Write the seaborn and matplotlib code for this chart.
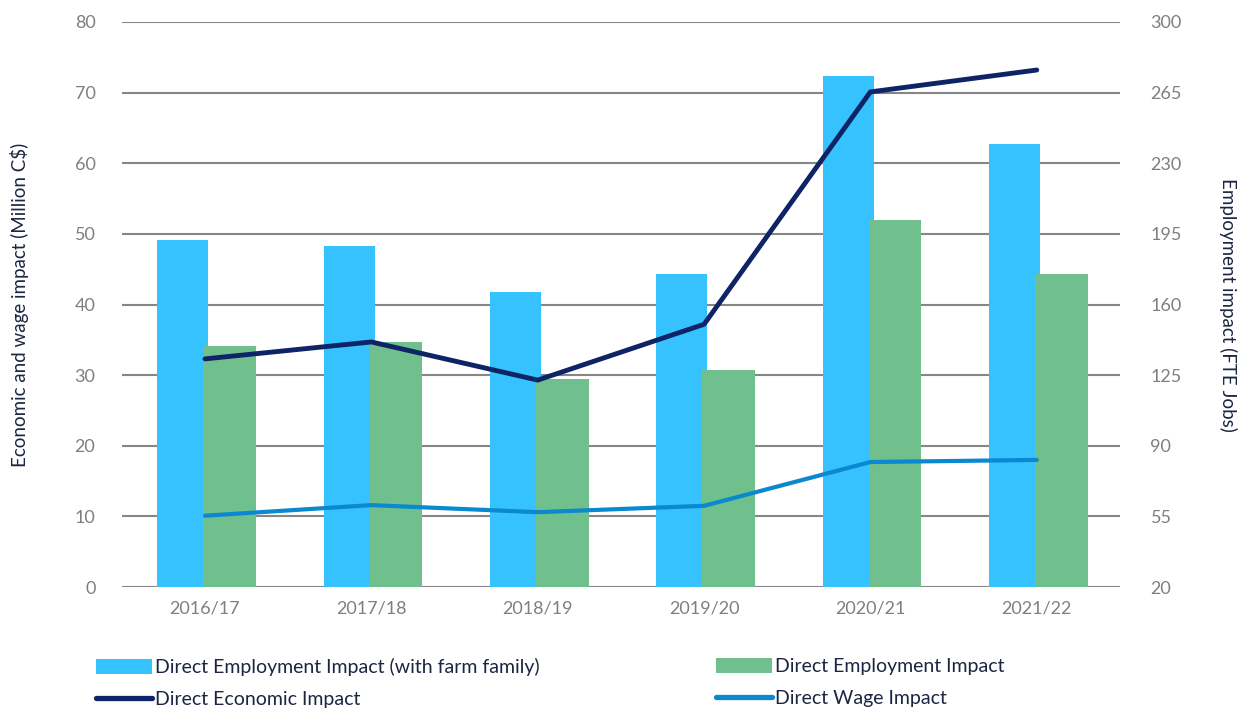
import numpy as np
import pandas as pd
import matplotlib
matplotlib.use("Agg")
import matplotlib.pyplot as plt
import seaborn as sns
from matplotlib.patches import Patch
from matplotlib.lines import Line2D

years = ["2016/17", "2017/18", "2018/19", "2019/20", "2020/21", "2021/22"]
emp_farm = [192, 189, 166, 175, 273, 239.5]
emp_direct = [139.5, 141.5, 123, 127.5, 202, 175]
econ = [32.3, 34.7, 29.3, 37.2, 70.1, 73.2]
wage = [10.1, 11.6, 10.6, 11.5, 17.7, 18.0]

left_ticks = [0, 10, 20, 30, 40, 50, 60, 70, 80]
right_ticks = [20, 55, 90, 125, 160, 195, 230, 265, 300]

c_farm = "#36c2ff"
c_direct = "#70c08e"
c_econ = "#0f2467"
c_wage = "#0a88d0"
c_text = "#1c2541"
c_tick = "#7f7f7f"

sns.set_theme(style="white")
plt.rcParams['font.family'] = ['Lato', 'DejaVu Sans']

bars = pd.DataFrame({
    "year": years * 2,
    "value": emp_farm + emp_direct,
    "series": ["Direct Employment Impact (with farm family)"] * len(years)
              + ["Direct Employment Impact"] * len(years),
})
lines = pd.DataFrame({"year": years, "econ": econ, "wage": wage})

fig = plt.figure(figsize=(12.43, 7.09), dpi=100)
ax = fig.add_axes([0.098, 0.172, 0.803, 0.797])

sns.barplot(data=bars, x="year", y="value", hue="series",
            palette=[c_farm, c_direct], width=0.6, ax=ax,
            legend=False, saturation=1, linewidth=0)
n = len(years)
for i, p in enumerate(ax.patches[:2 * n]):
    if i < n:
        p.set_x(p.get_x() + 0.013)
        p.set_width(0.307)
    else:
        p.set_x(p.get_x() - 0.01)
        p.set_width(0.316)

ax2 = ax.twinx()
sns.pointplot(data=lines, x="year", y="econ", color=c_econ, markers="",
              linewidth=3.5, ax=ax2, errorbar=None)
sns.pointplot(data=lines, x="year", y="wage", color=c_wage, markers="",
              linewidth=3.0, ax=ax2, errorbar=None)
for l in ax2.lines:
    l.set_solid_capstyle("round")

# bars axis -> right side scale
ax.set_ylim(20, 300)
ax.set_yticks(right_ticks)
ax.yaxis.tick_right()
ax.yaxis.set_label_position("right")
ax.grid(axis="y", color="#868686", linewidth=1.5)
ax.set_axisbelow(True)
ax.set_xlabel("")
ax.set_ylabel("Employment impact (FTE Jobs)", rotation=270, labelpad=40,
              fontsize=13.5, color=c_text)
ax.tick_params(axis="y", labelsize=13, colors=c_tick, pad=22, length=0,
               left=False, labelleft=False, right=True, labelright=True)
ax.tick_params(axis="x", labelsize=13, colors=c_tick, pad=10, length=0)
for s in ax.spines.values():
    s.set_visible(False)

# lines axis -> left side scale
ax2.set_ylim(0, 80)
ax2.set_yticks(left_ticks)
ax2.yaxis.tick_left()
ax2.yaxis.set_label_position("left")
ax2.set_ylabel("Economic and wage impact (Million C$)", fontsize=13.5,
               color=c_text, labelpad=33)
ax2.set_xlabel("")
ax2.tick_params(axis="y", labelsize=13, colors=c_tick, pad=19, length=0,
                right=False, labelright=False, left=True, labelleft=True)
ax2.grid(False)
for s in ax2.spines.values():
    s.set_visible(False)
ax.set_xlim(-0.5, n - 0.5)
ax2.set_xlim(-0.5, n - 0.5)

leg_kw = dict(frameon=False, fontsize=14, handlelength=2.9, handleheight=0.8,
              handletextpad=0.15, labelspacing=0.75, labelcolor=c_text,
              loc="upper left", borderaxespad=0)
h1 = [Patch(facecolor=c_farm, edgecolor="none"),
      Line2D([0], [0], color=c_econ, linewidth=3.8, solid_capstyle="round")]
h2 = [Patch(facecolor=c_direct, edgecolor="none"),
      Line2D([0], [0], color=c_wage, linewidth=3.8, solid_capstyle="round")]
fig.legend(h1, ["Direct Employment Impact (with farm family)",
                "Direct Economic Impact"],
           bbox_to_anchor=(88 / 1243, 1 - 650 / 709), **leg_kw)
fig.legend(h2, ["Direct Employment Impact", "Direct Wage Impact"],
           bbox_to_anchor=(708 / 1243, 1 - 650 / 709), **leg_kw)

fig.savefig("out.png", dpi=100)
